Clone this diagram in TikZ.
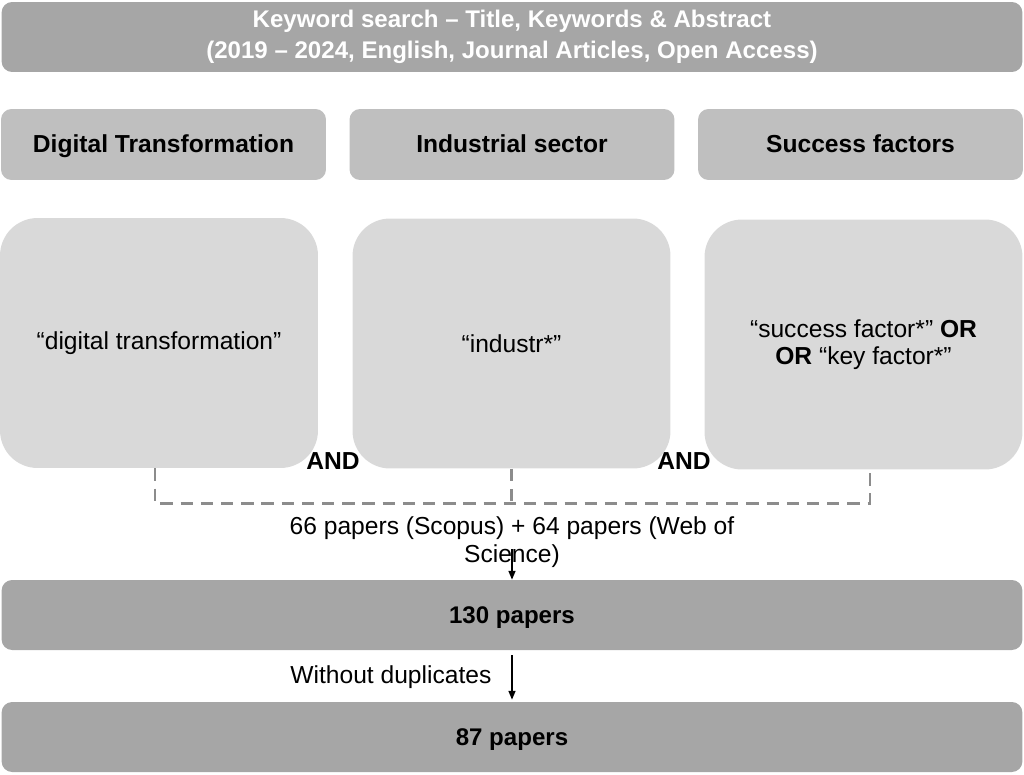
\documentclass[tikz,border=0pt]{standalone}
\usepackage{fontspec}
\setmainfont{Liberation Sans}
\usetikzlibrary{arrows.meta}
\definecolor{darkbox}{HTML}{A6A6A6}
\definecolor{midbox}{HTML}{BFBFBF}
\definecolor{lightbox}{HTML}{D9D9D9}
\definecolor{dashgray}{HTML}{8C8C8C}
\begin{document}
\begin{tikzpicture}[
  x=0.02cm, y=-0.02cm,
  bar/.style={rectangle, fill=darkbox, minimum width=20.42cm, minimum height=1.4cm,
              rounded corners=6pt, font=\bfseries\fontsize{13.7}{17.5}\selectfont, align=center},
  res/.style={bar, text height=2.2ex, text depth=0.4ex},
  cat/.style={rectangle, fill=midbox, minimum width=6.5cm, minimum height=1.42cm,
              rounded corners=6pt, font=\bfseries\fontsize{14}{17}\selectfont,
              text height=2.2ex, text depth=0.4ex},
  term/.style={rectangle, fill=lightbox, minimum width=6.36cm, minimum height=5.0cm,
               rounded corners=0.75cm, font=\fontsize{14}{15.5}\selectfont, align=center},
  andlbl/.style={font=\bfseries\fontsize{14}{17}\selectfont},
  txt/.style={font=\fontsize{14}{16}\selectfont, align=center},
  link/.style={dashgray, line width=1.4pt, dash pattern=on 7pt off 4.5pt},
  arr/.style={-{Triangle[length=5pt,width=4pt]}, thick}
]
  \useasboundingbox (0,0) rectangle (1024,774);

  % Suchanfrage
  \node[bar, text=white] (query) at (512,37)
    {Keyword search -- Title, Keywords \& Abstract\\(2019 -- 2024, English, Journal Articles, Open Access)};

  % Kategorien
  \foreach \i/\x/\t in {1/163.5/Digital Transformation, 2/512/Industrial sector, 3/860.5/Success factors} {
    \node[cat] (c\i) at (\x,144.5) {\t};
  }

  % Suchbegriffe
  \node[term] (t1) at (159,343) {\char"201C digital transformation\char"201D};
  \node[term] (t2) at (511.5,343.5) {\char"201C industr*\char"201D};
  \node[term] (t3) at (863.5,344.5)
    {\char"201C success factor*\char"201D\ \textbf{OR}\\\textbf{OR} \char"201C key factor*\char"201D};

  \node[andlbl] (and1) at (333,461) {AND};
  \node[andlbl] (and2) at (684,461) {AND};

  % Verknuepfung
  \draw[link] ([xshift=-0.08cm]t1.south) -- ++(0,35) -| ([xshift=0.13cm]t3.south);
  \draw[link] (t2.south) -- ++(0,35);

  % Ergebnisse
  \node[txt] (found) at (512,542) {66 papers (Scopus) + 64 papers (Web of\\Science)};
  \node[res] (p130) at (512,615) {130 papers};
  \node[res] (p87) at (512,737) {87 papers};

  \draw[arr] ([yshift=-0.14cm]found.center) -- (p130.north);
  \draw[arr] ([yshift=-0.1cm]p130.south) -- node[txt, left=8pt] (dup) {Without duplicates} ([yshift=0.04cm]p87.north);
\end{tikzpicture}
\end{document}
